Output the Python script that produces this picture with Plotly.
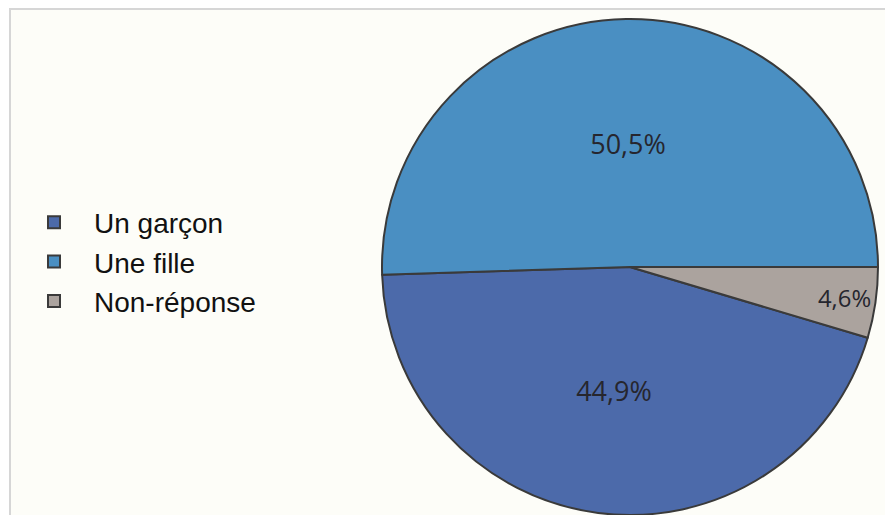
import plotly.graph_objects as go

labels = ["Un garçon", "Une fille", "Non-réponse"]
values = [44.9, 50.5, 4.6]
colors = ["#4C6AAA", "#4A8FC2", "#ABA39E"]

W, H = 885, 515
# start the first slice so that "Non-réponse" ends at 3 o'clock
rotation = 90 + 360 * values[2] / sum(values)

fig = go.Figure(go.Pie(
    labels=labels,
    values=values,
    sort=False,
    direction="clockwise",
    rotation=rotation,
    marker=dict(colors=colors, line=dict(color="#3a3a3a", width=2)),
    texttemplate="%{percent:.1%}",
    textposition="inside",
    insidetextorientation="horizontal",
    textfont=dict(family="Open Sans", size=27, color="#26262e"),
    domain=dict(x=[378 / W, 882 / W], y=[0, 496 / H]),
    hoverinfo="label+percent",
))

fig.update_layout(
    width=W, height=H,
    margin=dict(l=0, r=0, t=0, b=0),
    paper_bgcolor="white",
    separators=", ",
    showlegend=True,
    legend=dict(
        x=14 / W, y=(H - 262) / H, xanchor="left", yanchor="middle",
        font=dict(family="Liberation Sans", size=28, color="#111111"),
        bgcolor="rgba(0,0,0,0)", tracegroupgap=0, itemsizing="constant",
        itemwidth=70,
    ),
    shapes=[
        dict(type="rect", xref="paper", yref="paper",
             x0=10 / W, x1=1.02, y0=-0.02, y1=(H - 9) / H,
             fillcolor="#FDFDF8", line=dict(color="#D6D6D6", width=2),
             layer="below"),
    ],
)

fig.write_html("out.html", config={"displayModeBar": False},
               post_script="document.body.style.margin='0';")
